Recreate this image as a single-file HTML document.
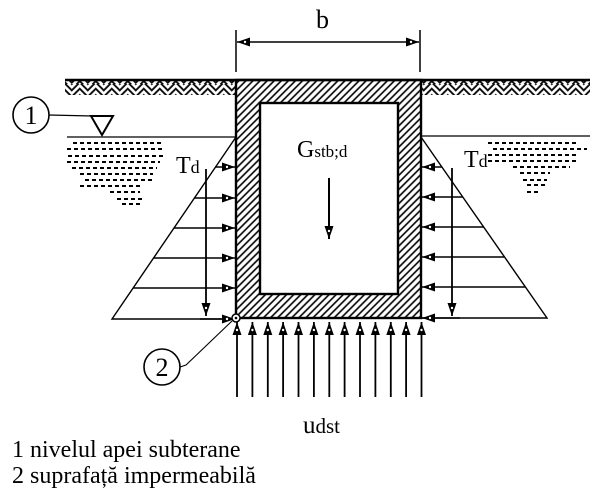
<!DOCTYPE html>
<html><head><meta charset="utf-8"><style>
html,body{margin:0;padding:0;background:#fff;}
svg{display:block;}
text{font-family:"Liberation Serif",serif;fill:#000;}
</style></head><body>
<svg width="600" height="496" viewBox="0 0 600 496" xmlns="http://www.w3.org/2000/svg">
<defs>
<pattern id="hA" width="4.5" height="4.5" patternUnits="userSpaceOnUse" patternTransform="rotate(-45)"><line x1="1" y1="0" x2="1" y2="4.5" stroke="#000" stroke-width="1.8"/></pattern>
<pattern id="hB" width="4.5" height="4.5" patternUnits="userSpaceOnUse" patternTransform="rotate(45)"><line x1="1" y1="0" x2="1" y2="4.5" stroke="#000" stroke-width="1.8"/></pattern>
<pattern id="herr" width="16" height="14" patternUnits="userSpaceOnUse"><rect x="0" y="0" width="8" height="14" fill="url(#hA)"/><rect x="8" y="0" width="8" height="14" fill="url(#hB)"/></pattern>
<pattern id="wall" width="5" height="5" patternUnits="userSpaceOnUse" patternTransform="rotate(45)"><line x1="1" y1="0" x2="1" y2="5" stroke="#000" stroke-width="1.6"/></pattern>
<marker id="ah" markerUnits="userSpaceOnUse" markerWidth="14" markerHeight="12" refX="13" refY="5" orient="auto-start-reverse"><path d="M0,0.5 L13,5 L0,9.5 Z" fill="#000"/><circle cx="5" cy="5" r="1.2" fill="#fff"/></marker>
</defs>

<!-- dimension b -->
<line x1="236" y1="30" x2="236" y2="72" stroke="#000" stroke-width="1.5"/>
<line x1="420" y1="30" x2="420" y2="72" stroke="#000" stroke-width="1.5"/>
<line x1="237" y1="42" x2="419" y2="42" stroke="#000" stroke-width="1.4" marker-start="url(#ah)" marker-end="url(#ah)"/>
<text x="316" y="28" font-size="26">b</text>

<!-- ground -->
<rect x="65" y="81" width="171" height="14" fill="url(#herr)"/>
<rect x="421" y="81" width="169" height="14" fill="url(#herr)"/>
<line x1="65" y1="80" x2="590" y2="80" stroke="#000" stroke-width="2.5"/>

<!-- structure -->
<rect x="236" y="80" width="185" height="238" fill="url(#wall)" stroke="#000" stroke-width="2.4"/>
<rect x="260" y="103" width="138" height="191" fill="#fff" stroke="#000" stroke-width="2.4"/>

<!-- water level symbol -->
<circle cx="31" cy="115" r="18" fill="none" stroke="#000" stroke-width="1.6"/>
<text x="31" y="124" font-size="26" text-anchor="middle">1</text>
<line x1="49" y1="115" x2="92" y2="116" stroke="#000" stroke-width="1.2"/>
<polygon points="91,116 113,116 102,135" fill="#fff" stroke="#000" stroke-width="2"/>
<line x1="67" y1="137" x2="236" y2="137" stroke="#000" stroke-width="1.2"/>
<line x1="421" y1="136" x2="590" y2="136" stroke="#000" stroke-width="1.2"/>

<!-- water dashes -->
<g stroke="#000" stroke-width="2" stroke-dasharray="4 3">
<line x1="73" y1="143" x2="163" y2="143"/>
<line x1="67" y1="149" x2="163" y2="149"/>
<line x1="68" y1="156" x2="165" y2="156"/>
<line x1="67" y1="162" x2="160" y2="162"/>
<line x1="72" y1="168" x2="157" y2="168"/>
<line x1="80" y1="174" x2="153" y2="174"/>
<line x1="85" y1="180" x2="153" y2="180"/>
<line x1="80" y1="186" x2="140" y2="186"/>
<line x1="110" y1="192" x2="140" y2="192"/>
<line x1="117" y1="199" x2="143" y2="199"/>
<line x1="122" y1="204" x2="140" y2="204"/>
<line x1="488" y1="143" x2="578" y2="143"/>
<line x1="493" y1="149" x2="587" y2="149"/>
<line x1="488" y1="155" x2="577" y2="155"/>
<line x1="488" y1="161" x2="577" y2="161"/>
<line x1="513" y1="167" x2="570" y2="167"/>
<line x1="520" y1="173" x2="550" y2="173"/>
<line x1="523" y1="180" x2="547" y2="180"/>
<line x1="527" y1="185" x2="547" y2="185"/>
<line x1="527" y1="192" x2="540" y2="192"/>
</g>

<!-- left pressure diagram -->
<g stroke="#000" stroke-width="1.4" fill="none">
<polyline points="236,137 112,319 236,319"/>
<line x1="215" y1="167" x2="235" y2="167" marker-end="url(#ah)"/>
<line x1="194" y1="198" x2="235" y2="198" marker-end="url(#ah)"/>
<line x1="174" y1="228" x2="235" y2="228" marker-end="url(#ah)"/>
<line x1="154" y1="258" x2="235" y2="258" marker-end="url(#ah)"/>
<line x1="133" y1="288" x2="235" y2="288" marker-end="url(#ah)"/>
<line x1="200" y1="319" x2="235" y2="319" marker-end="url(#ah)"/>
<line x1="206" y1="169" x2="206" y2="316" stroke-width="1.8" marker-end="url(#ah)"/>
</g>
<text x="176" y="173" font-size="24">T<tspan font-size="18">d</tspan></text>

<!-- right pressure diagram -->
<g stroke="#000" stroke-width="1.4" fill="none">
<polyline points="421,137 547,318 421,318"/>
<line x1="442" y1="167" x2="422" y2="167" marker-end="url(#ah)"/>
<line x1="463" y1="197" x2="422" y2="197" marker-end="url(#ah)"/>
<line x1="484" y1="227" x2="422" y2="227" marker-end="url(#ah)"/>
<line x1="504" y1="257" x2="422" y2="257" marker-end="url(#ah)"/>
<line x1="525" y1="287" x2="422" y2="287" marker-end="url(#ah)"/>
<line x1="460" y1="318" x2="422" y2="318" marker-end="url(#ah)"/>
<line x1="452" y1="168" x2="452" y2="316" stroke-width="1.8" marker-end="url(#ah)"/>
</g>
<text x="464" y="167" font-size="24">T<tspan font-size="18">d</tspan></text>

<!-- G stb;d -->
<text x="297" y="157" font-size="24">G<tspan font-size="17">stb;d</tspan></text>
<line x1="329" y1="178" x2="329" y2="239" stroke="#000" stroke-width="2" marker-end="url(#ah)"/>

<!-- uplift arrows -->
<g stroke="#000" stroke-width="1.8">
<line x1="237" y1="397" x2="237" y2="322" marker-end="url(#ah)"/>
<line x1="252.4" y1="397" x2="252.4" y2="322" marker-end="url(#ah)"/>
<line x1="267.8" y1="397" x2="267.8" y2="322" marker-end="url(#ah)"/>
<line x1="283.1" y1="397" x2="283.1" y2="322" marker-end="url(#ah)"/>
<line x1="298.5" y1="397" x2="298.5" y2="322" marker-end="url(#ah)"/>
<line x1="313.9" y1="397" x2="313.9" y2="322" marker-end="url(#ah)"/>
<line x1="329.3" y1="397" x2="329.3" y2="322" marker-end="url(#ah)"/>
<line x1="344.6" y1="397" x2="344.6" y2="322" marker-end="url(#ah)"/>
<line x1="360" y1="397" x2="360" y2="322" marker-end="url(#ah)"/>
<line x1="375.4" y1="397" x2="375.4" y2="322" marker-end="url(#ah)"/>
<line x1="390.8" y1="397" x2="390.8" y2="322" marker-end="url(#ah)"/>
<line x1="406.1" y1="397" x2="406.1" y2="322" marker-end="url(#ah)"/>
<line x1="421.5" y1="397" x2="421.5" y2="322" marker-end="url(#ah)"/>
</g>

<!-- impermeable point -->
<circle cx="236" cy="318" r="4" fill="#fff" stroke="#000" stroke-width="1.5"/>
<circle cx="236" cy="318" r="1.3" fill="#000"/>
<path d="M180,367 L186,365 L232,321" fill="none" stroke="#000" stroke-width="1.1"/>
<circle cx="162" cy="367" r="18" fill="none" stroke="#000" stroke-width="1.6"/>
<text x="162" y="376" font-size="26" text-anchor="middle">2</text>

<text x="303" y="433" font-size="25">u<tspan font-size="21">dst</tspan></text>

<text x="12" y="457" font-size="24">1 nivelul apei subterane</text>
<text x="12" y="483" font-size="24">2 suprafață impermeabilă</text>
</svg>
</body></html>
